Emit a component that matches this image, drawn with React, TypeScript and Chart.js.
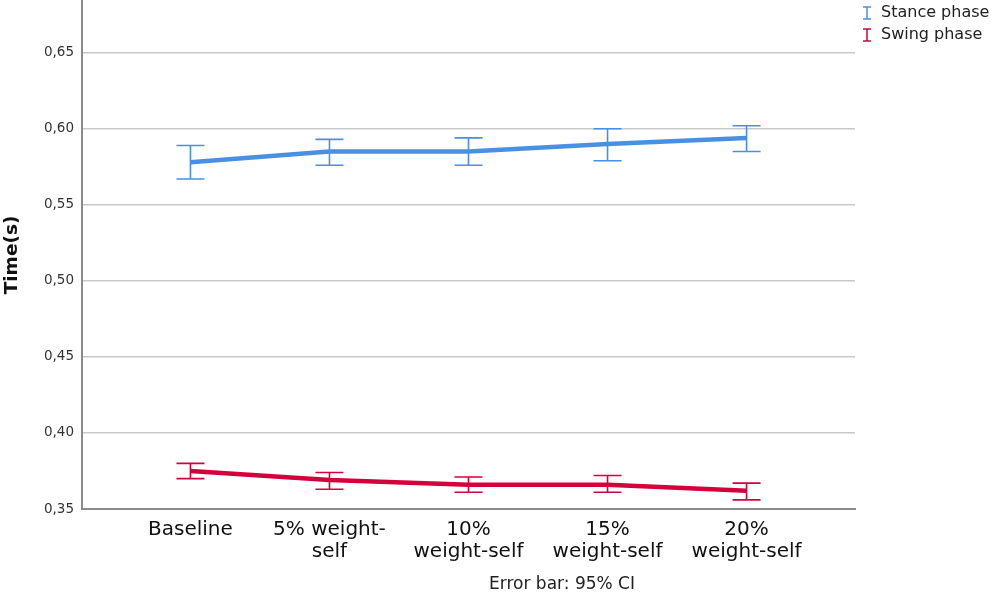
import { useEffect, useRef } from 'react';
import { Chart, ChartConfiguration, Plugin, registerables } from 'chart.js';

Chart.register(...registerables);

const categories: string[][] = [
  ['Baseline'],
  ['5% weight-', 'self'],
  ['10%', 'weight-self'],
  ['15%', 'weight-self'],
  ['20%', 'weight-self'],
];

const stanceMean = [0.578, 0.585, 0.585, 0.590, 0.594];
const stanceLow = [0.567, 0.576, 0.576, 0.579, 0.585];
const stanceHigh = [0.589, 0.593, 0.594, 0.600, 0.602];

const swingMean = [0.375, 0.369, 0.366, 0.366, 0.362];
const swingLow = [0.370, 0.363, 0.361, 0.361, 0.356];
const swingHigh = [0.380, 0.374, 0.371, 0.372, 0.367];

const seriesNames = ['Stance phase', 'Swing phase'];
const BLUE = '#4a90e2';
const RED = '#d4003c';
const FONT = '"DejaVu Sans", sans-serif';

const errorBounds = [
  { low: stanceLow, high: stanceHigh, color: BLUE },
  { low: swingLow, high: swingHigh, color: RED },
];

// vertical CI bars with caps, drawn under the lines
const errorBarPlugin: Plugin<'line'> = {
  id: 'errorBars',
  beforeDatasetsDraw(chart) {
    const { ctx, scales } = chart;
    const xs = scales.x;
    const ys = scales.y;
    ctx.save();
    ctx.lineWidth = 1.6;
    errorBounds.forEach(({ low, high, color }) => {
      ctx.strokeStyle = color;
      low.forEach((lo, i) => {
        const x = xs.getPixelForValue(i);
        const yLo = ys.getPixelForValue(lo);
        const yHi = ys.getPixelForValue(high[i]);
        ctx.beginPath();
        ctx.moveTo(x, yLo);
        ctx.lineTo(x, yHi);
        ctx.moveTo(x - 14, yLo);
        ctx.lineTo(x + 14, yLo);
        ctx.moveTo(x - 14, yHi);
        ctx.lineTo(x + 14, yHi);
        ctx.stroke();
      });
    });
    ctx.restore();
  },
};

// legend (top right) and footnote
const extrasPlugin: Plugin<'line'> = {
  id: 'extras',
  afterDraw(chart) {
    const { ctx } = chart;
    ctx.save();
    ctx.font = `16px ${FONT}`;
    ctx.textBaseline = 'middle';
    seriesNames.forEach((name, i) => {
      const color = i === 0 ? BLUE : RED;
      const cy = 13 + i * 22;
      ctx.strokeStyle = color;
      ctx.lineWidth = 1.5;
      ctx.beginPath();
      ctx.moveTo(867, cy - 6);
      ctx.lineTo(867, cy + 6);
      ctx.moveTo(863, cy - 6);
      ctx.lineTo(871, cy - 6);
      ctx.moveTo(863, cy + 6);
      ctx.lineTo(871, cy + 6);
      ctx.stroke();
      ctx.fillStyle = '#222';
      ctx.textAlign = 'left';
      ctx.fillText(name, 881, cy);
    });
    ctx.font = `17px ${FONT}`;
    ctx.textAlign = 'center';
    ctx.fillText('Error bar: 95% CI', 562, 585);
    ctx.restore();
  },
};

export default function App() {
  const chartRef = useRef<HTMLCanvasElement>(null);
  const chartInstance = useRef<Chart | null>(null);

  useEffect(() => {
    document.body.style.margin = '0';
    if (!chartRef.current) return;
    if (chartInstance.current) chartInstance.current.destroy();

    const config: ChartConfiguration<'line'> = {
      type: 'line',
      data: {
        datasets: [
          {
            label: seriesNames[0],
            data: stanceMean.map((v, i) => ({ x: i, y: v })),
            borderColor: BLUE,
            backgroundColor: BLUE,
            borderWidth: 4.5,
            pointRadius: 0,
            tension: 0,
          },
          {
            label: seriesNames[1],
            data: swingMean.map((v, i) => ({ x: i, y: v })),
            borderColor: RED,
            backgroundColor: RED,
            borderWidth: 4.5,
            pointRadius: 0,
            tension: 0,
          },
        ],
      },
      options: {
        responsive: false,
        animation: false,
        layout: { padding: { top: 1, right: 140, left: 0, bottom: 0 } },
        plugins: {
          legend: { display: false },
          tooltip: { enabled: false },
        },
        scales: {
          x: {
            type: 'linear',
            min: -0.78,
            max: 4.78,
            afterBuildTicks: (scale) => {
              scale.ticks = categories.map((_, i) => ({ value: i }));
            },
            afterFit: (scale) => {
              scale.height = 89;
              scale.paddingLeft = 0;
              scale.paddingRight = 0;
            },
            grid: { display: false, drawTicks: false },
            border: { display: true, color: '#8a8a8a', width: 2 },
            ticks: {
              padding: 10,
              autoSkip: false,
              maxRotation: 0,
              color: '#111',
              font: { family: FONT, size: 20, lineHeight: 1.1 },
              callback: (value) => categories[Number(value)] ?? '',
            },
          },
          y: {
            min: 0.35,
            max: 0.684,
            afterFit: (scale) => {
              scale.width = 82;
              scale.paddingTop = 0;
              scale.paddingBottom = 0;
            },
            grid: {
              drawTicks: false,
              color: (ctx) => (ctx.tick && Math.abs(ctx.tick.value - 0.35) < 1e-6 ? 'rgba(0,0,0,0)' : '#c8c8c8'),
              lineWidth: 1.5,
            },
            border: { display: true, color: '#8a8a8a', width: 2 },
            ticks: {
              stepSize: 0.05,
              includeBounds: false,
              padding: 8,
              color: '#333',
              font: { family: FONT, size: 13.5 },
              callback: (value) => Number(value).toFixed(2).replace('.', ','),
            },
            title: {
              display: true,
              text: 'Time(s)',
              color: '#111',
              font: { family: FONT, size: 18.5, weight: 'bold' },
              padding: { top: 1, bottom: 0 },
            },
          },
        },
      },
      plugins: [errorBarPlugin, extrasPlugin],
    };

    chartInstance.current = new Chart(chartRef.current, config);
    return () => {
      if (chartInstance.current) {
        chartInstance.current.destroy();
        chartInstance.current = null;
      }
    };
  }, []);

  return (
    <div style={{ width: 995, height: 598, background: '#fff' }}>
      <canvas ref={chartRef} width={995} height={598}></canvas>
    </div>
  );
}
